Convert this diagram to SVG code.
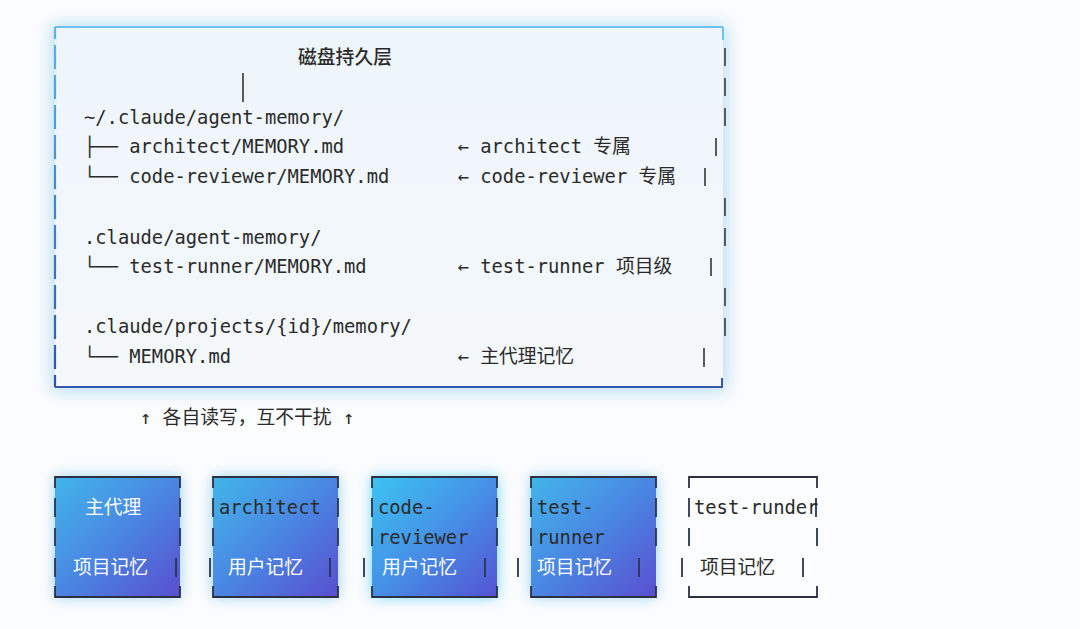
<svg xmlns="http://www.w3.org/2000/svg" width="1080" height="629" viewBox="0 0 1080 629">
<style>
.mono{font-family:"DejaVu Sans Mono","Noto Sans CJK SC",monospace;font-size:18.8px;fill:#2a2a2a}
.cjk{font-family:"Noto Sans CJK SC","DejaVu Sans",sans-serif;font-size:18.8px;fill:#2a2a2a}
.wt{fill:#ffffff}
.pipe{stroke:#4a4a4a;stroke-width:1.8;fill:none}
.bpipe{stroke:#2a3550;stroke-width:1.8;fill:none}
.edge{stroke:#2b3142;stroke-width:1.8;fill:none}
</style>
<defs>
<filter id="blur8" x="-20%" y="-20%" width="140%" height="140%"><feGaussianBlur stdDeviation="9"/></filter>
<filter id="blur6" x="-40%" y="-40%" width="180%" height="180%"><feGaussianBlur stdDeviation="7"/></filter>
<filter id="soft" x="-10%" y="-10%" width="120%" height="120%"><feGaussianBlur stdDeviation="4"/></filter>
<clipPath id="c1"><rect x="55" y="477" width="125" height="120"/></clipPath>
<linearGradient id="boxfill" x1="0" y1="0" x2="1" y2="1">
<stop offset="0" stop-color="#42b6ea"/>
<stop offset="0.5" stop-color="#4a86e2"/>
<stop offset="1" stop-color="#5a4ecf"/>
</linearGradient>
<linearGradient id="boxfill3" x1="0" y1="0" x2="1" y2="1">
<stop offset="0" stop-color="#3cc4f2"/>
<stop offset="0.5" stop-color="#4690e6"/>
<stop offset="1" stop-color="#5552d2"/>
</linearGradient>
<linearGradient id="mainfill" x1="0" y1="0" x2="0" y2="1">
<stop offset="0" stop-color="#eef5fb"/>
<stop offset="1" stop-color="#f4f8fb"/>
</linearGradient>
<linearGradient id="leftedge" gradientUnits="userSpaceOnUse" x1="0" y1="27" x2="0" y2="387">
<stop offset="0" stop-color="#5ab6e2"/>
<stop offset="1" stop-color="#3152a8"/>
</linearGradient>
</defs>
<rect width="1080" height="629" fill="#fbfcfd"/>

<g id="disk-layer">
<rect x="52" y="25" width="674" height="366" fill="#a9d6f1" opacity="0.85" filter="url(#blur8)"/>
<rect x="55" y="27" width="668" height="360" fill="url(#mainfill)"/>
<line x1="55" y1="27" x2="723" y2="27" stroke="#6cc2e8" stroke-width="2"/>
<line x1="723" y1="27" x2="723" y2="40" stroke="#6cc2e8" stroke-width="2"/>
<line x1="55" y1="387" x2="723" y2="387" stroke="#3a58aa" stroke-width="2.2"/>
<line x1="722" y1="378" x2="722" y2="387" stroke="#3a58aa" stroke-width="2"/>
<line x1="55" y1="27" x2="55" y2="387" stroke="url(#leftedge)" stroke-width="2.2" stroke-dasharray="24 6" stroke-dashoffset="12"/>
<g class="pipe">
<line x1="725" y1="48" x2="725" y2="66"/>
<line x1="725" y1="78" x2="725" y2="96"/>
<line x1="725" y1="108" x2="725" y2="126"/>
<line x1="716" y1="138" x2="716" y2="156"/>
<line x1="705" y1="168" x2="705" y2="186"/>
<line x1="725" y1="198" x2="725" y2="216"/>
<line x1="725" y1="228" x2="725" y2="246"/>
<line x1="711" y1="258" x2="711" y2="276"/>
<line x1="725" y1="288" x2="725" y2="306"/>
<line x1="725" y1="318" x2="725" y2="336"/>
<line x1="704" y1="348" x2="704" y2="367"/>
</g>
<text class="cjk" x="345" y="64" text-anchor="middle" font-weight="500">磁盘持久层</text>
<text class="mono" x="84" y="124">~/.claude/agent-memory/</text>
<text class="mono" x="84" y="153">├── architect/MEMORY.md</text>
<text class="mono" x="457.6" y="153">← architect 专属</text>
<text class="mono" x="84" y="183">└── code-reviewer/MEMORY.md</text>
<text class="mono" x="457.6" y="183">← code-reviewer 专属</text>
<text class="mono" x="84" y="244">.claude/agent-memory/</text>
<text class="mono" x="84" y="273">└── test-runner/MEMORY.md</text>
<text class="mono" x="457.6" y="273">← test-runner 项目级</text>
<text class="mono" x="84" y="333">.claude/projects/{id}/memory/</text>
<text class="mono" x="84" y="363">└── MEMORY.md</text>
<text class="mono" x="457.6" y="363">← 主代理记忆</text>
</g>

<g id="connectors">
<line x1="243" y1="73" x2="243" y2="102" stroke="#333" stroke-width="1.6"/>
<text class="mono" x="140" y="424" fill="#333">↑ 各自读写，互不干扰 ↑</text>
</g>

<g id="node-main-agent">
<rect x="55" y="477" width="125" height="120" fill="#5ab8ee" opacity="0.65" filter="url(#blur6)"/>
<rect x="55" y="477" width="125" height="120" fill="url(#boxfill)"/>
<path class="edge" d="M55 488V477H180V488M55 586V597H180V586"/>
<path class="bpipe" d="M55 498V517M180 498V517M55 528V546M180 528V546M55 558V577M176 558V577"/>
<text class="cjk wt" x="85" y="514">主代理</text>
<text class="cjk wt" x="73" y="574">项目记忆</text>
</g>

<g id="node-architect">
<rect x="213" y="477" width="125" height="120" fill="#5ab8ee" opacity="0.65" filter="url(#blur6)"/>
<rect x="213" y="477" width="125" height="120" fill="url(#boxfill)"/>
<path class="edge" d="M213 488V477H338V488M213 586V597H338V586"/>
<path class="bpipe" d="M213 498V517M338 498V517M213 528V546M338 528V546M210 558V577M330 558V577"/>
<text class="mono" x="219" y="514">architect</text>
<text class="cjk wt" x="228" y="574">用户记忆</text>
</g>

<g id="node-code-reviewer">
<rect x="372" y="477" width="125" height="120" fill="#45ccf6" opacity="0.8" filter="url(#blur6)"/>
<rect x="372" y="477" width="125" height="120" fill="url(#boxfill3)"/>
<path class="edge" d="M372 488V477H497V488M372 586V597H497V586"/>
<path class="bpipe" d="M372 498V517M497 498V517M372 528V546M497 528V546M364 558V577M485 558V577"/>
<text class="mono" x="378" y="514">code-</text>
<text class="mono" x="378" y="544">reviewer</text>
<text class="cjk wt" x="382" y="574">用户记忆</text>
</g>

<g id="node-test-runner">
<rect x="531" y="477" width="125" height="120" fill="#5ab8ee" opacity="0.65" filter="url(#blur6)"/>
<rect x="531" y="477" width="125" height="120" fill="url(#boxfill)"/>
<path class="edge" d="M531 488V477H656V488M531 586V597H656V586"/>
<path class="bpipe" d="M531 498V517M656 498V517M531 528V546M656 528V546M518 558V577M639 558V577"/>
<text class="mono" x="537" y="514">test-</text>
<text class="mono" x="537" y="544">runner</text>
<text class="cjk wt" x="537" y="574">项目记忆</text>
</g>

<g id="node-test-runder">
<path class="edge" d="M689 488V477H817V488M689 586V597H817V586"/>
<path class="bpipe" d="M689 498V517M816 498V517M689 528V546M817 528V546M682 558V577M803 558V577"/>
<text class="mono" x="694" y="514">test-runder</text>
<text class="cjk" x="700" y="574">项目记忆</text>
</g>
</svg>
